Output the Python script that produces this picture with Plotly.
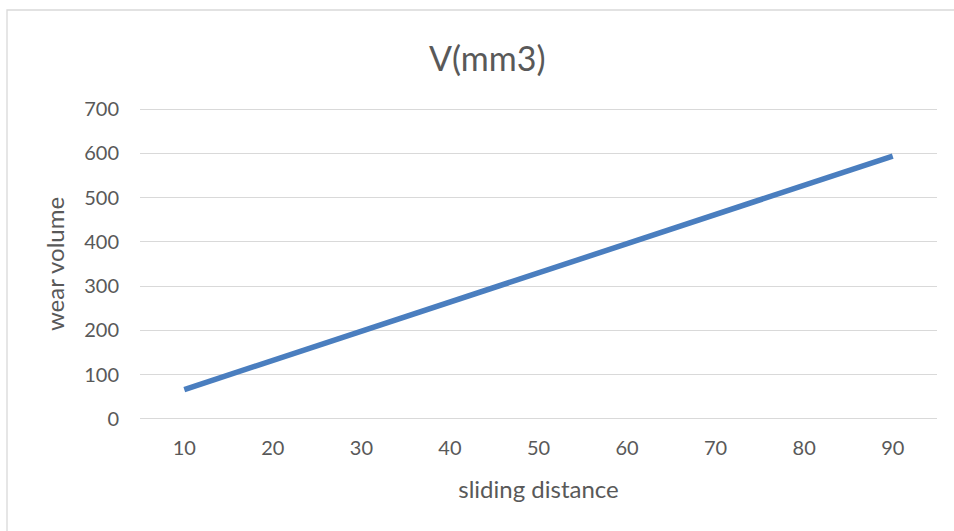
import plotly.graph_objects as go

categories = ["10", "20", "30", "40", "50", "60", "70", "80", "90"]
wear_volume = [66, 132, 198, 264, 330, 396, 462, 528, 594]
y_ticks = [0, 100, 200, 300, 400, 500, 600, 700]

FONT = "Lato, 'Open Sans', sans-serif"
GRAY = "#595959"

fig = go.Figure()
fig.add_trace(go.Scatter(
    x=categories, y=wear_volume, mode="lines",
    line=dict(color="#4A7EBF", width=5.5),
    showlegend=False, hoverinfo="x+y",
))

W, H = 954, 531
L, R, T, B = 140, 17, 107, 110
pw, ph = W - L - R, H - T - B

def px_x(p):
    return (p - L) / pw

def px_y(p):
    return (H - B - p) / ph

fig.update_layout(
    width=W, height=H,
    margin=dict(l=L, r=R, t=T, b=B),
    paper_bgcolor="white", plot_bgcolor="white",
    font=dict(family=FONT, color=GRAY, size=20),
    xaxis=dict(
        type="category", range=[-0.5, 8.5],
        showgrid=False, zeroline=False, showline=False,
        ticks="", tickfont=dict(size=20, color=GRAY),
        ticklabelstandoff=13,
        title=dict(text="sliding distance", font=dict(size=24, color=GRAY), standoff=23),
    ),
    yaxis=dict(
        range=[-5, 705], tickvals=y_ticks,
        showgrid=True, gridcolor="#D9D9D9", gridwidth=1.3,
        zeroline=False, showline=False, ticks="",
        tickfont=dict(size=20, color=GRAY),
        ticklabelstandoff=20,
        title=dict(text="wear volume", font=dict(size=24, color=GRAY), standoff=12),
    ),
    shapes=[dict(
        type="rect", xref="paper", yref="paper",
        x0=px_x(7), x1=px_x(960), y0=px_y(540), y1=px_y(10),
        line=dict(color="#D9D9D9", width=1.3), fillcolor="rgba(0,0,0,0)",
        layer="below",
    )],
    annotations=[dict(
        text="V(mm3)", xref="paper", yref="paper",
        x=px_x(487), y=px_y(57), xanchor="center", yanchor="middle",
        showarrow=False, font=dict(size=34, color=GRAY, family=FONT),
    )],
)

fig.write_html("out.html")
